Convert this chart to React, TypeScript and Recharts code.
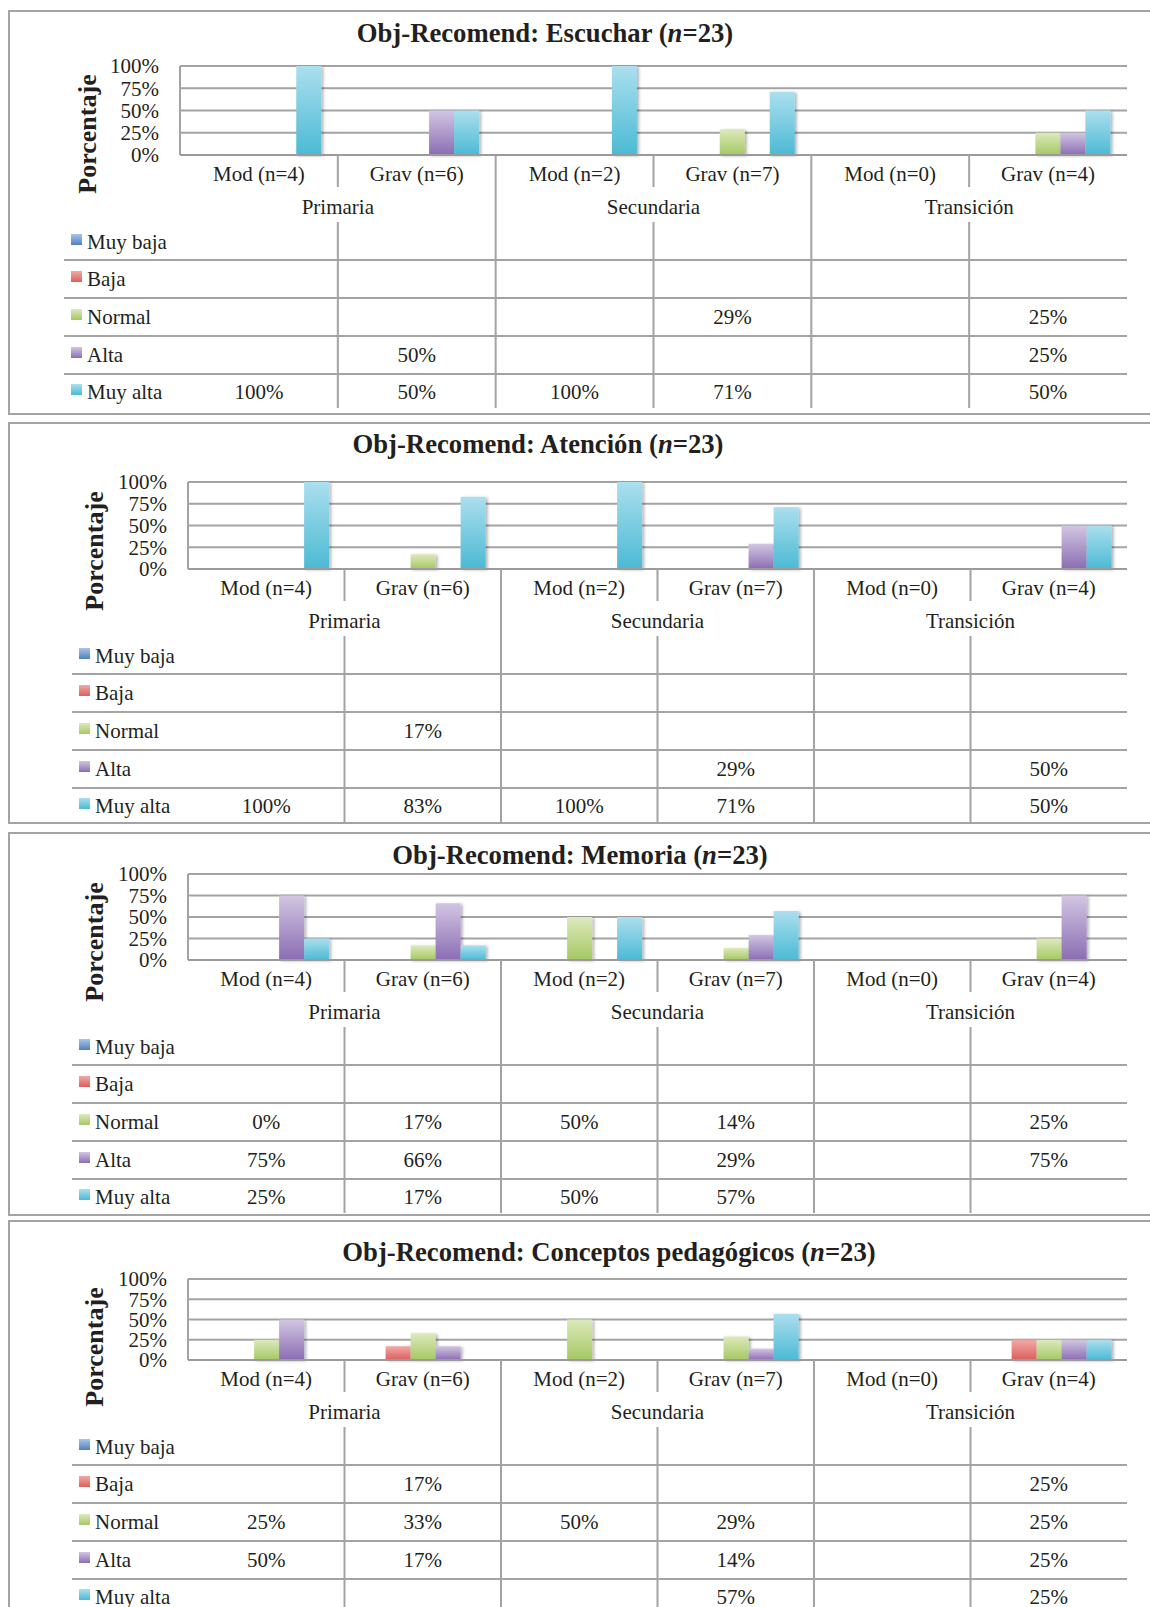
import React from "react";
import { BarChart, Bar, XAxis, YAxis, CartesianGrid } from "recharts";

const CATEGORIES = ["Mod (n=4)", "Grav (n=6)", "Mod (n=2)", "Grav (n=7)", "Mod (n=0)", "Grav (n=4)"];
const GROUPS = ["Primaria", "Secundaria", "Transición"];
const SERIES = ["Muy baja", "Baja", "Normal", "Alta", "Muy alta"];
const Y_TICKS = [0, 25, 50, 75, 100];

type Row = (number | null)[];
// one row per series (Muy baja .. Muy alta), one value per category
const ESCUCHAR: Row[] = [
  [null, null, null, null, null, null],
  [null, null, null, null, null, null],
  [null, null, null, 29, null, 25],
  [null, 50, null, null, null, 25],
  [100, 50, 100, 71, null, 50],
];
const ATENCION: Row[] = [
  [null, null, null, null, null, null],
  [null, null, null, null, null, null],
  [null, 17, null, null, null, null],
  [null, null, null, 29, null, 50],
  [100, 83, 100, 71, null, 50],
];
const MEMORIA: Row[] = [
  [null, null, null, null, null, null],
  [null, null, null, null, null, null],
  [0, 17, 50, 14, null, 25],
  [75, 66, null, 29, null, 75],
  [25, 17, 50, 57, null, null],
];
const CONCEPTOS: Row[] = [
  [null, null, null, null, null, null],
  [null, 17, null, null, null, 25],
  [25, 33, 50, 29, null, 25],
  [50, 17, null, 14, null, 25],
  [null, null, null, 57, null, 25],
];

// excel-ish gradient stops, top -> bottom
const GRAD = [
  ["#a9c4e8", "#4f81bd"],
  ["#f3a9a6", "#d9605c"],
  ["#dde9bd", "#a5c863"],
  ["#d2c6e2", "#8b6db3"],
  ["#abdfee", "#4bbad4"],
];

const FONT = "'Liberation Serif', 'Times New Roman', serif";
const INK = "#231f20";
const LINE = "#a3a3a3";
const PLOT_RIGHT = 1127;

// table layout, offsets below the 0% line
const CAT_DY = 19;
const GROUP_DY = 52;
const ROW_DY = [87, 124, 162, 200, 237];
const LINE_DY = [105, 143, 181, 219];
const INNER_SEP_END = 32;
const TABLE_TOP = 67;
const TABLE_BOTTOM = 253;

type Panel = {
  title: string; rows: Row[]; top: number; height: number; plotTop: number; plotBottom: number;
  plotLeft: number; titleX: number; titleY: number; yLabelX: number; yLabelY: number; legendX: number; lineX: number;
};

const PANELS: Panel[] = [
  { title: "Escuchar", rows: ESCUCHAR, top: 10, height: 405, plotTop: 66, plotBottom: 155, plotLeft: 180,
    titleX: 545, titleY: 33, yLabelX: 88, yLabelY: 134, legendX: 71, lineX: 64 },
  { title: "Atención", rows: ATENCION, top: 422, height: 402, plotTop: 482, plotBottom: 569, plotLeft: 188,
    titleX: 538, titleY: 444, yLabelX: 95, yLabelY: 551, legendX: 79, lineX: 72 },
  { title: "Memoria", rows: MEMORIA, top: 832, height: 384, plotTop: 874, plotBottom: 960, plotLeft: 188,
    titleX: 580, titleY: 855, yLabelX: 95, yLabelY: 942, legendX: 79, lineX: 72 },
  { title: "Conceptos pedagógicos", rows: CONCEPTOS, top: 1220, height: 400, plotTop: 1279, plotBottom: 1360, plotLeft: 188,
    titleX: 609, titleY: 1252, yLabelX: 95, yLabelY: 1347, legendX: 79, lineX: 72 },
];

const txt = { fontFamily: FONT, fontSize: 21, fill: INK } as const;

function makeTick(p: Panel, pi: number) {
  const band = (PLOT_RIGHT - p.plotLeft) / CATEGORIES.length;
  return (props: any) => {
    const { x, y, payload } = props;
    const i = CATEGORIES.indexOf(payload.value);
    const bx = x - band / 2;
    return (
      <g>
        <text x={x} y={y + CAT_DY} dy="0.35em" textAnchor="middle" {...txt}>{payload.value}</text>
        {i > 0 && i % 2 === 0 && <line x1={bx} x2={bx} y1={y} y2={y + TABLE_BOTTOM} stroke={LINE} strokeWidth={2} />}
        {i % 2 === 1 && (
          <>
            <line x1={bx} x2={bx} y1={y} y2={y + INNER_SEP_END} stroke={LINE} strokeWidth={2} />
            <line x1={bx} x2={bx} y1={y + TABLE_TOP} y2={y + TABLE_BOTTOM} stroke={LINE} strokeWidth={2} />
          </>
        )}
        {i % 2 === 0 && (
          <text x={x + band / 2} y={y + GROUP_DY} dy="0.35em" textAnchor="middle" {...txt}>{GROUPS[i / 2]}</text>
        )}
        {p.rows.map((r, k) =>
          r[i] == null ? null : (
            <text key={k} x={x} y={y + ROW_DY[k]} dy="0.35em" textAnchor="middle" {...txt}>{r[i]}%</text>
          )
        )}
        {i === 0 && (
          <>
            {LINE_DY.map((d, k) => (
              <line key={"l" + k} x1={p.lineX} x2={PLOT_RIGHT} y1={y + d} y2={y + d} stroke={LINE} strokeWidth={2} />
            ))}
            {SERIES.map((s, k) => (
              <g key={"s" + k}>
                <rect x={p.legendX} y={y + ROW_DY[k] - 8} width={11} height={11} fill={`url(#g${pi}-${k})`} />
                <text x={p.legendX + 16} y={y + ROW_DY[k]} dy="0.35em" {...txt}>{s}</text>
              </g>
            ))}
          </>
        )}
      </g>
    );
  };
}

function PanelChart({ p, pi }: { p: Panel; pi: number }) {
  const data = CATEGORIES.map((c, i) => {
    const d: Record<string, any> = { cat: c };
    SERIES.forEach((s, k) => (d[s] = p.rows[k][i]));
    return d;
  });
  return (
    <>
      <div style={{ position: "absolute", left: 8, top: p.top, width: 1200, height: p.height, border: `2px solid ${LINE}`, boxSizing: "border-box" }} />
      <div style={{ position: "absolute", left: 0, top: p.top, width: 1150, height: p.height }}>
        <BarChart width={1150} height={p.height} data={data} barCategoryGap="10.3%" barGap={0}
          margin={{ top: p.plotTop - p.top, right: 1150 - PLOT_RIGHT, bottom: 0, left: 0 }}>
          <defs>
            {GRAD.map((g, k) => (
              <linearGradient key={k} id={`g${pi}-${k}`} x1="0" y1="0" x2="0" y2="1">
                <stop offset="0%" stopColor={g[0]} />
                <stop offset="100%" stopColor={g[1]} />
              </linearGradient>
            ))}
            <filter id={`sh${pi}`} x="-30%" y="-10%" width="170%" height="130%">
              <feDropShadow dx="2" dy="1" stdDeviation="1.6" floodColor="#000" floodOpacity="0.3" />
            </filter>
          </defs>
          <CartesianGrid vertical={false} stroke={LINE} strokeWidth={2} />
          <YAxis type="number" domain={[0, 100]} ticks={Y_TICKS} width={p.plotLeft} interval={0}
            axisLine={{ stroke: LINE, strokeWidth: 2 }} tickLine={false} tickSize={0} tickMargin={21}
            tickFormatter={(v) => `${v}%`} tick={{ ...txt }} />
          <XAxis dataKey="cat" interval={0} height={p.height - (p.plotBottom - p.top)}
            axisLine={{ stroke: "#9a9a9a", strokeWidth: 2 }} tickLine={false} tickSize={0} tickMargin={0}
            tick={makeTick(p, pi)} />
          {SERIES.map((s, k) => (
            <Bar key={s} dataKey={s} fill={`url(#g${pi}-${k})`} isAnimationActive={false}
              shape={(sp: any) => (sp.height > 0 ? (
                <rect x={sp.x} y={sp.y} width={sp.width} height={sp.height} fill={`url(#g${pi}-${k})`} filter={`url(#sh${pi})`} />
              ) : <g />)} />
          ))}
        </BarChart>
      </div>
      <div style={{ position: "absolute", left: p.titleX, top: p.titleY, transform: "translate(-50%, -50%)",
        fontFamily: FONT, fontWeight: "bold", fontSize: 26.7, color: INK, whiteSpace: "nowrap", lineHeight: "30px" }}>
        Obj-Recomend: {p.title} (<i>n</i>=23)
      </div>
      <div style={{ position: "absolute", left: p.yLabelX, top: p.yLabelY, transform: "translate(-50%, -50%) rotate(-90deg)",
        fontFamily: FONT, fontWeight: "bold", fontSize: 26, color: INK, whiteSpace: "nowrap", lineHeight: "30px" }}>
        Porcentaje
      </div>
    </>
  );
}

export default function App() {
  return (
    <div style={{ position: "relative", width: 1150, height: 1607, overflow: "hidden", background: "#fff" }}>
      <style>{"body{margin:0}"}</style>
      {PANELS.map((p, i) => (
        <PanelChart key={i} p={p} pi={i} />
      ))}
    </div>
  );
}
